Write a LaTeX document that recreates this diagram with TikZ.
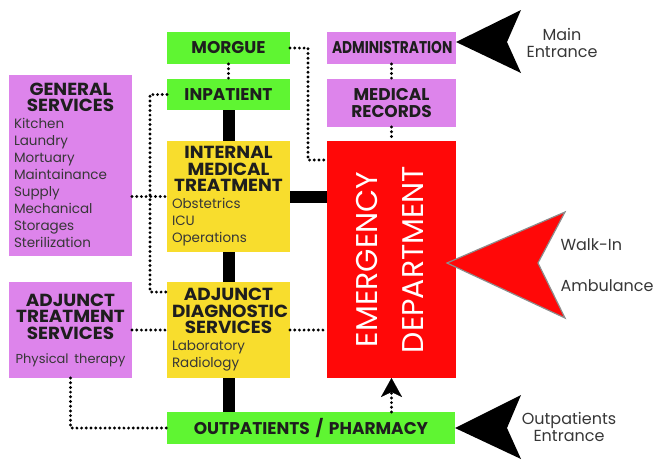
\documentclass[tikz,border=0pt]{standalone}
\usepackage{fontspec}
\setmainfont{Poppins}
\newfontfamily\widefont{Poppins}[FakeStretch=1.05]
\usetikzlibrary{positioning,arrows.meta}
\definecolor{boxgreen}{RGB}{95,245,50}
\definecolor{boxviolet}{RGB}{221,132,235}
\definecolor{boxyellow}{RGB}{248,221,45}
\definecolor{edred}{RGB}{255,8,8}
\definecolor{inktext}{RGB}{30,30,30}
\definecolor{itemtext}{RGB}{55,55,55}
\tikzset{
    box/.style={
        rectangle,
        inner sep=5pt,
        outer sep=0pt,
        text width=113pt,
        align=center,
        text=inktext,
        font=\fontsize{17}{16.5}\selectfont\bfseries,
    },
    widebox/.style={
        box,
        font=\widefont\fontsize{17.5}{16.5}\selectfont\bfseries,
    },
    greenbox/.style={
        box,
        fill=boxgreen,
        minimum height=32pt,
    },
    violetbox/.style={
        widebox,
        fill=boxviolet,
    },
    yellowbox/.style={
        widebox,
        fill=boxyellow,
    },
    wardbox/.style={
        box,
        text width=119pt,
        fill=boxviolet,
        minimum height=32pt,
    },
    edbox/.style={
        rectangle,
        outer sep=0pt,
        fill=edred,
        minimum width=129pt,
        minimum height=237pt,
        text=white,
        font=\fontsize{30}{46}\selectfont,
    },
    bar/.style={
        line width=12pt,
    },
    dots/.style={
        line width=3.2pt,
        line cap=round,
        dash pattern=on 0pt off 4.7pt,
        draw=black,
    },
    entrance/.style={
        fill=black,
    },
    sign/.style={
        align=center,
        text=itemtext,
        font=\fontsize{16}{17}\selectfont,
    },
}
\newcommand{\itemlist}[1]{{\raggedright\normalfont\fontsize{13.5}{17}\selectfont\color{itemtext}#1\par}}

\begin{document}
\begin{tikzpicture}[x=1pt,y=-1pt]
    \useasboundingbox (0,0) rectangle (656,459);

    \node[greenbox] (morgue) at (228.5,48) {MORGUE};
    \node[greenbox,minimum height=31pt,below=15pt of morgue] (inpatient) {INPATIENT};
    \node[yellowbox,minimum height=111pt,below=31pt of inpatient] (imt)
        {INTERNAL\\MEDICAL\\TREATMENT\par
         \itemlist{Obstetrics\\ICU\\Operations}};
    \node[yellowbox,minimum height=96pt,below=30pt of imt] (ads)
        {ADJUNCT\\DIAGNOSTIC\\SERVICES\par
         \itemlist{Laboratory\\Radiology}};
    \node[greenbox,text width=278pt,below=34pt of ads.south west,anchor=north west] (opd)
        {OUTPATIENTS / PHARMACY};

    \node[violetbox,minimum height=181pt] (gensvc) at (70.5,165.5)
        {GENERAL\\SERVICES\par
         \itemlist{Kitchen\\Laundry\\Mortuary\\Maintainance\\Supply\\Mechanical\\Storages\\Sterilization}};
    \node[violetbox,minimum height=96pt,left=35pt of ads] (ats)
        {ADJUNCT\\TREATMENT\\SERVICES\par\vspace{7pt}
         {\normalfont\fontsize{13}{17}\selectfont\color{itemtext}\mbox{Physical therapy}\par}};

    \node[edbox,right=37pt of imt.north east,anchor=north west] (ed)
        {\rotatebox{90}{\begin{tabular}{@{}c@{}}EMERGENCY\\DEPARTMENT\end{tabular}}};
    \node[wardbox,minimum height=48pt,above=14pt of ed] (medrec) {MEDICAL\\RECORDS};
    \node[wardbox,above=15pt of medrec] (admin) {\scalebox{0.81}[1]{ADMINISTRATION}};

    \draw[bar] (inpatient) -- (imt);
    \draw[bar] (imt) -- (ads);
    \draw[bar] (ads.south) -- (ads.south |- opd.north);
    \draw[bar] (imt.east) -- (imt.east -| ed.west);

    \draw[dots] (morgue) -- (inpatient);
    \draw[dots] (morgue.east) -- ++(18,0) |- ([yshift=-19pt]ed.north west);
    \draw[dots] (admin) -- (medrec);
    \draw[dots] (medrec) -- (ed);
    \draw[dots] (gensvc.east |- imt.west) -- (imt.west);
    \draw[dots] (inpatient.west) -- ++(-17,0) |- ([yshift=-10pt]ads.north west);
    \draw[dots] (ats) -- (ads);
    \draw[dots] (ads.east) -- (ads.east -| ed.west);
    \draw[dots] (ats.south) |- (opd.west);
    \draw[dots,-{Stealth[length=19pt,width=21pt,inset=5pt,line width=0.1pt]}]
        (opd.north -| ed.south) -- (ed.south);

    \fill[entrance] ([yshift=6pt]admin.east) -- ++(65,-32) -- ++(-14,32) -- ++(14,31) -- cycle;
    \filldraw[fill=edred,draw=black!45,line width=1.2pt]
        ([xshift=-9pt,yshift=-3.5pt]ed.east) -- ++(118,-51) -- ++(-27,51) -- ++(27,55) -- cycle;
    \fill[entrance] (opd.east) -- ++(66,-33) -- ++(-14,33) -- ++(14,31) -- cycle;

    \node[sign] (mainlbl) at (562,43) {Main\\Entrance};
    \node[sign,anchor=west] (walkin) at (557,245) {Walk-In};
    \node[sign,anchor=west] (ambulance) at (557,286) {Ambulance};
    \node[sign] (outlbl) at (569,427) {Outpatients\\Entrance};
\end{tikzpicture}
\end{document}
